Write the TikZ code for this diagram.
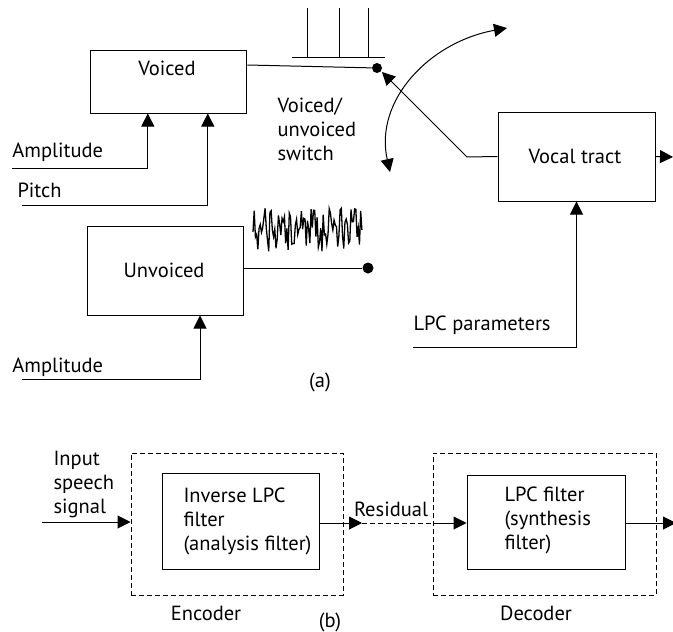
\documentclass[tikz,border=0pt]{standalone}
\usepackage{fontspec}
\setmainfont{PT Sans}
\usetikzlibrary{arrows.meta}
\begin{document}
\begin{tikzpicture}[x=1pt,y=-1pt,
  line width=1pt,
  box/.style={draw, line width=1pt, inner sep=0pt},
  dbox/.style={draw, line width=1pt, dash pattern=on 5pt off 3pt, inner sep=0pt},
  tri/.tip={Triangle[length=13pt,width=13pt]},
  arr/.style={-tri},
  lbl/.style={font=\fontsize{20.5}{24}\selectfont, inner sep=0pt},
  mlbl/.style={lbl, align=left},
]
\useasboundingbox (0,0) rectangle (673,632);

% ---------- (a) ----------
\node[box, minimum width=156pt, minimum height=63pt] (voiced) at (168.8,81.5) {};
\node[lbl] (voicedtxt) at (167,68) {Voiced};
\node[box, minimum width=156pt, minimum height=89pt] (unvoiced) at (165,270.5) {};
\node[lbl] (unvoicedtxt) at (164,270.5) {Unvoiced};
\node[box, minimum width=157pt, minimum height=89pt] (vocal) at (576.5,156.5) {};
\node[lbl] (vocaltxt) at (575,156) {Vocal tract};

% inputs
\node[lbl, anchor=base west] (amp1txt) at (12,157) {Amplitude};
\coordinate (amp1) at (12,168);
\draw[arr] (amp1) -| ([xshift=-21pt]voiced.south);
\node[lbl, anchor=base west] (pitchtxt) at (17,197) {Pitch};
\coordinate (pitch) at (22,205);
\draw[arr] (pitch) -| ([xshift=39pt]voiced.south);
\node[lbl, anchor=base west] (amp2txt) at (12,372) {Amplitude};
\coordinate (amp2) at (22,379);
\draw[arr] (amp2) -| ([xshift=35pt]unvoiced.south);
\node[lbl, anchor=base west] (lpctxt) at (413,330) {LPC parameters};
\coordinate (lpc) at (413,347);
\draw[arr] (lpc) -| (vocal.south);

% pulse train
\coordinate (pbl) at (292,57);
\coordinate (pbr) at (385,57);
\draw (pbl) -- (pbr);
\foreach \x in {307,339,368} \draw (\x,57) -- (\x,8);

% voiced output to switch contact
\node[circle, fill, inner sep=0pt, minimum size=10pt] (vdot) at (377,68) {};
\draw (voiced.east |- 0,65) -- (vdot);

% noise
\pgfmathsetseed{4711}
\draw[line width=1.3pt, line join=miter] (253,232) \foreach \i in {1,...,90}{ -- ({253+\i*1.21},{230+22*rand}) };
\node[circle, fill, inner sep=0pt, minimum size=11pt] (udot) at (368,268) {};
\draw (unvoiced.east |- 0,268) -- (udot);

% switch arm
\coordinate (swbend) at (467,157);
\coordinate (swtip) at (382,72);
\draw[arr] (vocal.west) -- (swbend) -- (swtip);
% curved double arrow
\coordinate (ca) at (390,172);
\coordinate (cb) at (507,28);
\draw[tri-tri] (ca) .. controls (374,100) and (430,42) .. (cb);

\node[mlbl, anchor=north west] (swtxt) at (277,97) {Voiced/\\unvoiced\\switch};

% output of vocal tract
\coordinate (vout) at (673,157);
\draw[arr] (vocal.east) -- (vout);

\node[lbl] (atxt) at (320,382) {(a)};

% ---------- (b) ----------
\node[dbox, minimum width=212pt, minimum height=142pt] (enc) at (237,524) {};
\node[box, minimum width=157pt, minimum height=96pt] (inv) at (240.5,521) {};
\node[mlbl, anchor=north west] (invtxt) at (183,487) {Inverse LPC\\filter\\(analysis filter)};
\node[dbox, minimum width=223pt, minimum height=142pt] (dec) at (544.5,524) {};
\node[box, minimum width=158pt, minimum height=94pt] (lpcf) at (546,522) {};
\node[mlbl, anchor=north west] (lpcftxt) at (504,486) {LPC filter\\(synthesis\\filter)};

\node[mlbl, anchor=north west] (intxt) at (53,451) {Input\\speech\\signal};
\coordinate (in) at (42,522);
\draw[arr] (in) -- (enc.west |- in);

\coordinate (r1) at (362,523);
\coordinate (r2) at (433,523);
\draw[arr] (inv.east |- r1) -- (r1);
\draw[dash pattern=on 5pt off 3pt] (r1) -- (r2);
\draw[arr] (r2) -- (lpcf.west |- r2);
\node[lbl] (restxt) at (391,509) {Residual};

\coordinate (out) at (676,523);
\draw[arr] (lpcf.east |- out) -- (out);

\node[lbl] (enctxt) at (206,613) {Encoder};
\node[lbl] (dectxt) at (536,613) {Decoder};
\node[lbl] (btxt) at (330,622) {(b)};
\end{tikzpicture}
\end{document}
